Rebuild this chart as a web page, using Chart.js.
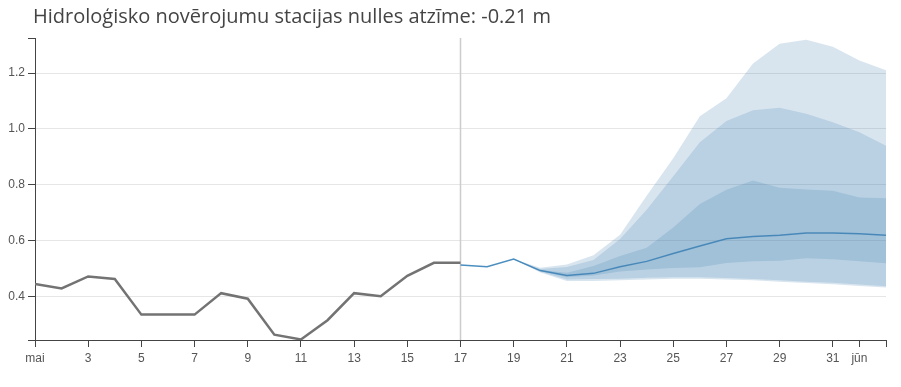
<!DOCTYPE html>
<html>
<head>
<meta charset="utf-8">
<script src="https://cdn.jsdelivr.net/npm/chart.js@4.4.1/dist/chart.umd.min.js"></script>
<style>
  html, body { margin: 0; padding: 0; background: #fff; }
  #wrap { position: relative; width: 901px; height: 387px; }
  #virsraksts {
    position: absolute; left: 33px; top: 2px;
    font-family: "Open Sans", "Noto Sans", sans-serif; font-size: 20px; color: #444;
    white-space: nowrap;
  }
</style>
</head>
<body>
<div id="wrap">
  <div id="virsraksts">Hidroloģisko novērojumu stacijas nulles atzīme: -0.21 m</div>
  <canvas id="grafiks" width="901" height="387"></canvas>
</div>
<script>
// novērotais līmenis (maija dienas)
const novDienas = [1, 2, 3, 4, 5, 6, 7, 8, 9, 10, 11, 12, 13, 14, 15, 16, 17];
const novLimenis = [0.444, 0.428, 0.471, 0.462, 0.334, 0.334, 0.334, 0.411, 0.391, 0.262, 0.245, 0.314, 0.411, 0.400, 0.473, 0.520, 0.520];

// prognozes mediāna (32 = 1. jūnijs, 33 = 2. jūnijs)
const progDienas = [17, 18, 19, 20, 21, 22, 23, 24, 25, 26, 27, 28, 29, 30, 31, 32, 33];
const progMediana = [0.512, 0.506, 0.533, 0.492, 0.474, 0.482, 0.506, 0.525, 0.553, 0.580, 0.606, 0.614, 0.619, 0.627, 0.627, 0.624, 0.619];

// nenoteiktības joslas
const joslasDienas = [19, 20, 21, 22, 23, 24, 25, 26, 27, 28, 29, 30, 31, 32, 33];
const arejaAugsa = [0.533, 0.502, 0.514, 0.547, 0.620, 0.760, 0.895, 1.045, 1.110, 1.235, 1.305, 1.320, 1.295, 1.245, 1.210];
const arejaApaksa = [0.533, 0.485, 0.455, 0.455, 0.457, 0.460, 0.463, 0.463, 0.460, 0.457, 0.452, 0.447, 0.443, 0.437, 0.431];
const videjaAugsa = [0.533, 0.498, 0.505, 0.530, 0.605, 0.710, 0.830, 0.952, 1.028, 1.067, 1.076, 1.054, 1.024, 0.988, 0.940];
const videjaApaksa = [0.533, 0.488, 0.460, 0.462, 0.463, 0.466, 0.468, 0.468, 0.465, 0.462, 0.457, 0.452, 0.448, 0.442, 0.436];
const iekseAugsa = [0.533, 0.494, 0.484, 0.508, 0.544, 0.574, 0.646, 0.731, 0.782, 0.815, 0.789, 0.783, 0.778, 0.754, 0.751];
const iekseApaksa = [0.533, 0.490, 0.468, 0.474, 0.489, 0.496, 0.501, 0.504, 0.519, 0.525, 0.527, 0.536, 0.533, 0.525, 0.518];

const yTicks = [0.4, 0.6, 0.8, 1.0, 1.2];
const xTicks = [1, 3, 5, 7, 9, 11, 13, 15, 17, 19, 21, 23, 25, 27, 29, 31, 32];
const sodiena = 17;
const yMin = 0.243, yMax = 1.326, xMin = 1, xMax = 33;

function punkti(xs, ys) {
  return xs.map((x, i) => ({ x: x, y: ys[i] }));
}

const joslasKrasa = 'rgba(70,130,180,0.21)';

function josla(augsa, apaksa) {
  return [
    { data: punkti(joslasDienas, augsa), fill: '+1', backgroundColor: joslasKrasa, borderWidth: 0, pointRadius: 0 },
    { data: punkti(joslasDienas, apaksa), fill: false, borderWidth: 0, pointRadius: 0 }
  ];
}

const ctx = document.getElementById('grafiks');

new Chart(ctx, {
  type: 'line',
  data: {
    datasets: [
      ...josla(arejaAugsa, arejaApaksa),
      ...josla(videjaAugsa, videjaApaksa),
      ...josla(iekseAugsa, iekseApaksa),
      {
        data: punkti(progDienas, progMediana),
        borderColor: '#4b8fc0', borderWidth: 1.5, pointRadius: 0, fill: false
      },
      {
        data: punkti(novDienas, novLimenis),
        borderColor: '#737373', borderWidth: 2.5, pointRadius: 0, fill: false
      },
      {
        // šodienas vertikālā līnija
        data: [{ x: sodiena, y: yMin }, { x: sodiena, y: yMax }],
        borderColor: '#cccccc', borderWidth: 1.5, pointRadius: 0, fill: false
      }
    ]
  },
  options: {
    responsive: false,
    animation: false,
    layout: { padding: { top: 38, right: 15, left: 0, bottom: 0 } },
    plugins: { legend: { display: false }, tooltip: { enabled: false } },
    scales: {
      x: {
        type: 'linear', min: xMin, max: xMax,
        afterBuildTicks: (s) => { s.ticks = xTicks.concat([xMax]).map(v => ({ value: v })); },
        afterFit: (s) => { s.height = 47; },
        ticks: {
          autoSkip: false, maxRotation: 0, color: '#555', padding: 4,
          font: { family: 'Liberation Sans, Arial, sans-serif', size: 12 },
          callback: (v) => v === 1 ? 'mai' : v === 32 ? 'jūn' : v === xMax ? '' : String(v)
        },
        grid: { drawOnChartArea: false, tickLength: 7, tickColor: '#444' },
        border: { color: '#444', width: 1 }
      },
      y: {
        min: yMin, max: yMax,
        afterBuildTicks: (s) => { s.ticks = [yMin].concat(yTicks, [yMax]).map(v => ({ value: v })); },
        afterFit: (s) => { s.width = 35; },
        ticks: {
          autoSkip: false, color: '#555', padding: 3,
          font: { family: 'Liberation Sans, Arial, sans-serif', size: 12 },
          callback: (v) => yTicks.includes(v) ? v.toFixed(1) : ''
        },
        grid: {
          tickLength: 7, tickColor: '#444',
          color: (c) => (c.tick && yTicks.includes(c.tick.value)) ? '#e6e6e6' : 'rgba(0,0,0,0)'
        },
        border: { color: '#444', width: 1 }
      }
    }
  }
});
</script>
</body>
</html>
